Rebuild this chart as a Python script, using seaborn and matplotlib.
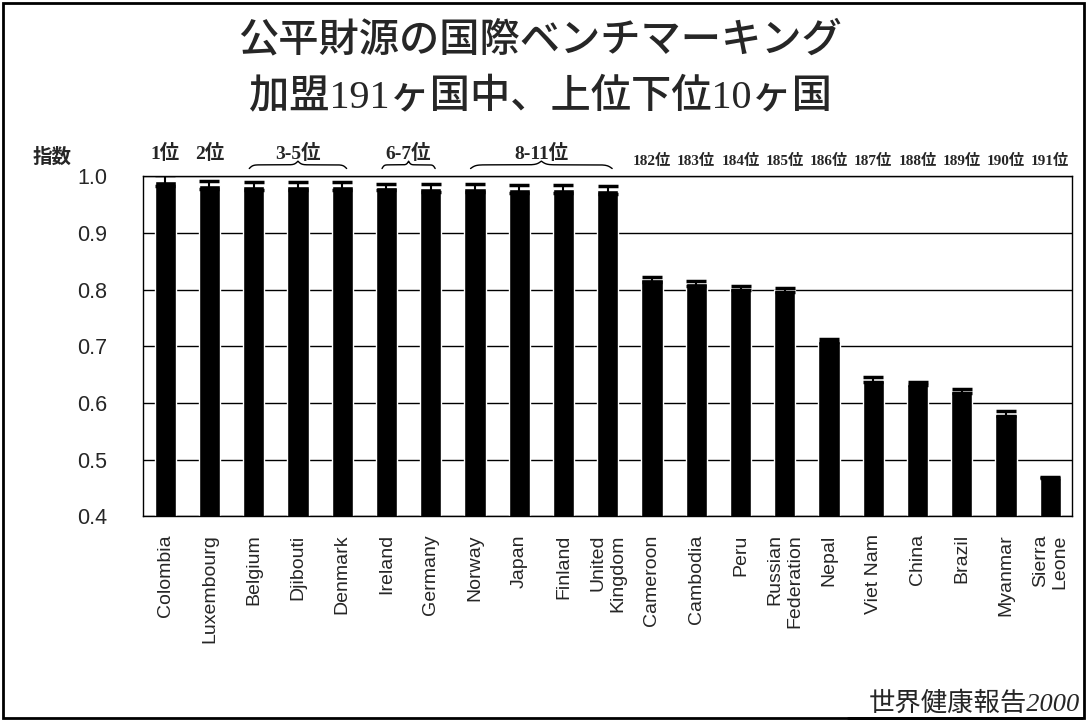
"""Fairness of financial contribution: top and bottom 10 of 191 WHO members."""

import matplotlib
matplotlib.use("Agg")
import matplotlib.pyplot as plt
from matplotlib.lines import Line2D
from matplotlib.patches import Rectangle
import numpy as np
import pandas as pd
import seaborn as sns

COUNTRIES = [
    "Colombia", "Luxembourg", "Belgium", "Djibouti", "Denmark", "Ireland",
    "Germany", "Norway", "Japan", "Finland", "United\nKingdom", "Cameroon",
    "Cambodia", "Peru", "Russian\nFederation", "Nepal", "Viet Nam", "China",
    "Brazil", "Myanmar", "Sierra\nLeone",
]
INDEX = [
    0.992, 0.984, 0.982, 0.982, 0.982, 0.981, 0.979, 0.979, 0.978, 0.978, 0.976,
    0.818, 0.811, 0.803, 0.799, 0.710, 0.641, 0.634, 0.621, 0.581, 0.468,
]
ERR = [
    0.010, 0.007, 0.007, 0.007, 0.007, 0.006, 0.007, 0.007, 0.007, 0.007, 0.007,
    0.004, 0.004, 0.003, 0.004, 0.003, 0.004, 0.003, 0.004, 0.004, 0.001,
]
# top group rank labels: (label, first bar, last bar)
TOP_RANKS = [("1位", 0, 0), ("2位", 1, 1), ("3-5位", 2, 4), ("6-7位", 5, 6), ("8-11位", 7, 10)]
BOTTOM_RANKS = ["182位", "183位", "184位", "185位", "186位",
                "187位", "188位", "189位", "190位", "191位"]

SERIF_JP = ["Liberation Serif", "Noto Sans CJK JP"]


def _brace(ax, x0, x1, y, h):
    n = 201
    x = np.linspace(x0, x1, n)
    half = x[: n // 2 + 1]
    beta = 60.0 / (x1 - x0 + 0.2)
    yh = 1 / (1 + np.exp(-beta * (half - half[0]))) + 1 / (1 + np.exp(-beta * (half - half[-1])))
    yy = np.concatenate((yh, yh[-2::-1]))
    ax.plot(x, y + (yy - 1.0) * h, color="black", lw=1.0, clip_on=False)


sns.set_style("white")
plt.rcParams["font.family"] = ["Liberation Sans", "Noto Sans CJK JP"]

df = pd.DataFrame({"country": COUNTRIES, "index": INDEX, "err": ERR})

fig = plt.figure(figsize=(10.87, 7.25), dpi=100)
ax = fig.add_axes([0.1316, 0.288, 0.855, 0.469])

sns.barplot(data=df, x="country", y="index", color="black", width=0.48,
            saturation=1, errorbar=None, ax=ax)
xpos = np.arange(len(df))
ax.errorbar(xpos, df["index"], yerr=df["err"], fmt="none", ecolor="black",
            elinewidth=1.5, capsize=7, capthick=2.5)

ax.set_ylim(0.4, 1.0)
ax.set_xlim(-0.5, len(df) - 0.5)
ax.set_yticks(np.arange(0.4, 1.01, 0.1))
ax.set_yticklabels([f"{v:.1f}" for v in np.arange(0.4, 1.01, 0.1)], fontsize=15.5)
ax.yaxis.grid(True, color="black", lw=1.0)
ax.set_axisbelow(True)
for s in ax.spines.values():
    s.set_visible(True)
    s.set_color("black")
    s.set_linewidth(1.0)
ax.tick_params(axis="y", length=0, pad=26)
ax.tick_params(axis="x", which="major", length=0, pad=13)
ax.set_xticks(xpos[:-1] + 0.5, minor=True)
ax.tick_params(axis="x", which="minor", direction="in", length=5, color="black")
ax.set_xlabel("")
ax.set_ylabel("")
for lab in ax.get_xticklabels():
    lab.set_rotation(90)
    lab.set_fontsize(14)
    lab.set_multialignment("right")

# rank labels above the bars
for label, i0, i1 in TOP_RANKS:
    xc = (i0 + i1) / 2
    ax.text(xc, 1.040, label, ha="center", va="center", fontsize=14,
            fontweight="bold", family=SERIF_JP, clip_on=False)
    if i1 > i0:
        _brace(ax, i0 - 0.1, i1 + 0.1, 1.020, 0.013)
for k, label in enumerate(BOTTOM_RANKS):
    ax.text(11 + k, 1.027, label, ha="center", va="center", fontsize=11,
            fontweight="bold", family=SERIF_JP, clip_on=False)

fig.text(0.048, 0.783, "指数", ha="center", va="center", fontsize=14, fontweight="bold")

fig.text(0.497, 0.942, "公平財源の国際ベンチマーキング", ha="center", va="center",
         fontsize=29, family=SERIF_JP, fontweight="medium")
fig.text(0.497, 0.865, "加盟191ヶ国中、上位下位10ヶ国", ha="center", va="center",
         fontsize=29, family=SERIF_JP, fontweight="medium")

fig.text(0.994, 0.030, "世界健康報告2000", ha="right", va="center", fontsize=19,
         style="italic", family=SERIF_JP)

# outer frame and footnote underline
fig.add_artist(Rectangle((0.003, 0.010), 0.994, 0.986, transform=fig.transFigure,
                         fill=False, edgecolor="black", lw=2))
fig.add_artist(Line2D([0.78, 0.995], [0.010, 0.010], transform=fig.transFigure,
                      color="black", lw=2))

fig.savefig("out.png", dpi=100)
plt.close(fig)
